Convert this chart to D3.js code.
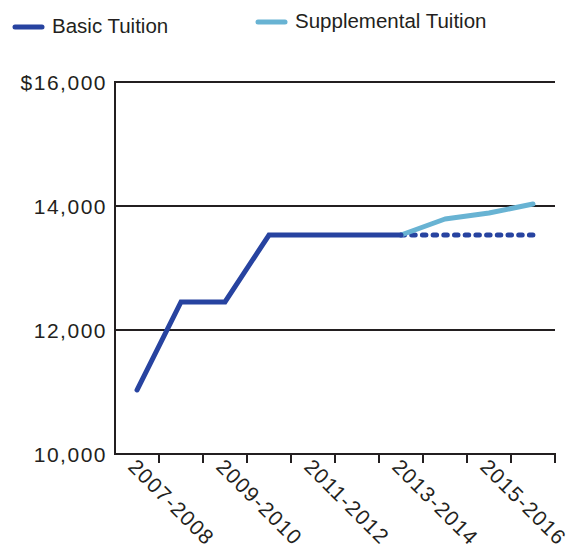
<!DOCTYPE html>
<html>
<head>
<meta charset="utf-8">
<script src="https://cdn.jsdelivr.net/npm/d3@7"></script>
<style>
  body { margin: 0; background: #fff; }
  text { font-family: "Liberation Sans", Arial, sans-serif; fill: #231f20; }
</style>
</head>
<body>
<svg id="chart" width="573" height="555"></svg>
<script>
// school years along the bottom
var years = ["2007-2008", "2008-2009", "2009-2010", "2010-2011", "2011-2012",
             "2012-2013", "2013-2014", "2014-2015", "2015-2016", "2016-2017"];
var yearLabels = ["2007-2008", "2009-2010", "2011-2012", "2013-2014", "2015-2016"];

// basic tuition: actual, then held flat (dotted)
var basicYears = ["2007-2008", "2008-2009", "2009-2010", "2010-2011", "2011-2012",
                  "2012-2013", "2013-2014"];
var basicValues = [11032, 12452, 12452, 13532, 13532, 13532, 13532];
var basicFlatYears = ["2013-2014", "2014-2015", "2015-2016", "2016-2017"];
var basicFlatValues = [13532, 13532, 13532, 13532];

var suppYears = ["2013-2014", "2014-2015", "2015-2016", "2016-2017"];
var suppValues = [13532, 13790, 13887, 14032];

var yTicks = [10000, 12000, 14000, 16000];

var dark = "#2743a0", light = "#68b3d3", ink = "#231f20";

var svg = d3.select("#chart");

var x = d3.scaleBand().domain(years).range([115, 555]);
var y = d3.scaleLinear().domain([10000, 16000]).range([454, 82]);

var cx = function (d) { return x(d) + x.bandwidth() / 2; };

// grid lines
svg.selectAll("line.grid")
  .data(yTicks.filter(function (d) { return d > 10000; }))
  .enter().append("line")
  .attr("class", "grid")
  .attr("x1", 115).attr("x2", 555)
  .attr("y1", function (d) { return y(d); })
  .attr("y2", function (d) { return y(d); })
  .style("stroke", ink).style("stroke-width", 2);

// axes
svg.append("line")
  .attr("x1", 115).attr("x2", 115).attr("y1", y(16000) - 1).attr("y2", y(10000) + 1)
  .style("stroke", ink).style("stroke-width", 2);
svg.append("line")
  .attr("x1", 114).attr("x2", 556).attr("y1", y(10000)).attr("y2", y(10000))
  .style("stroke", ink).style("stroke-width", 2);

// tick marks at band edges
svg.selectAll("line.xtick")
  .data(years)
  .enter().append("line")
  .attr("class", "xtick")
  .attr("x1", function (d) { return x(d) + x.bandwidth(); })
  .attr("x2", function (d) { return x(d) + x.bandwidth(); })
  .attr("y1", y(10000)).attr("y2", y(10000) + 9)
  .style("stroke", ink).style("stroke-width", 2);

// y labels
svg.selectAll("text.ylab")
  .data(yTicks)
  .enter().append("text")
  .attr("class", "ylab")
  .attr("x", 107)
  .attr("y", function (d) { return y(d); })
  .attr("dy", "0.36em")
  .attr("text-anchor", "end")
  .style("font-size", "21px")
  .style("letter-spacing", "1.5px")
  .text(function (d) {
    return (d === 16000 ? "$" : "") + d3.format(",")(d);
  });

// x labels, rotated
svg.selectAll("text.xlab")
  .data(yearLabels)
  .enter().append("text")
  .attr("class", "xlab")
  .attr("transform", function (d) {
    return "translate(" + (cx(d) - 10) + "," + 468 + ") rotate(45)";
  })
  .style("font-size", "21px")
  .style("letter-spacing", "1.2px")
  .text(function (d) { return d; });

var line = d3.line()
  .x(function (d) { return cx(d[0]); })
  .y(function (d) { return y(d[1]); });

var pair = function (ks, vs) {
  return ks.map(function (k, i) { return [k, vs[i]]; });
};

svg.append("path")
  .datum(pair(basicFlatYears, basicFlatValues))
  .attr("d", line)
  .style("fill", "none").style("stroke", dark).style("stroke-width", 5)
  .style("stroke-linecap", "round")
  .style("stroke-dasharray", "3.5,7.2");

svg.append("path")
  .datum(pair(suppYears, suppValues))
  .attr("d", line)
  .style("fill", "none").style("stroke", light).style("stroke-width", 5)
  .style("stroke-linecap", "round").style("stroke-linejoin", "round");

svg.append("path")
  .datum(pair(basicYears, basicValues))
  .attr("d", line)
  .style("fill", "none").style("stroke", dark).style("stroke-width", 5)
  .style("stroke-linecap", "round").style("stroke-linejoin", "miter");

// legend
var legend = [
  { name: "Basic Tuition", color: dark, x: 15, y: 27 },
  { name: "Supplemental Tuition", color: light, x: 258, y: 22 }
];
var lg = svg.selectAll("g.legend")
  .data(legend)
  .enter().append("g")
  .attr("class", "legend")
  .attr("transform", function (d) { return "translate(" + d.x + "," + d.y + ")"; });
lg.append("line")
  .attr("x1", 0).attr("x2", 27).attr("y1", 0).attr("y2", 0)
  .style("stroke", function (d) { return d.color; })
  .style("stroke-width", 5).style("stroke-linecap", "round");
lg.append("text")
  .attr("x", 37).attr("y", 6)
  .style("font-size", "20.5px")
  .text(function (d) { return d.name; });
</script>
</body>
</html>
